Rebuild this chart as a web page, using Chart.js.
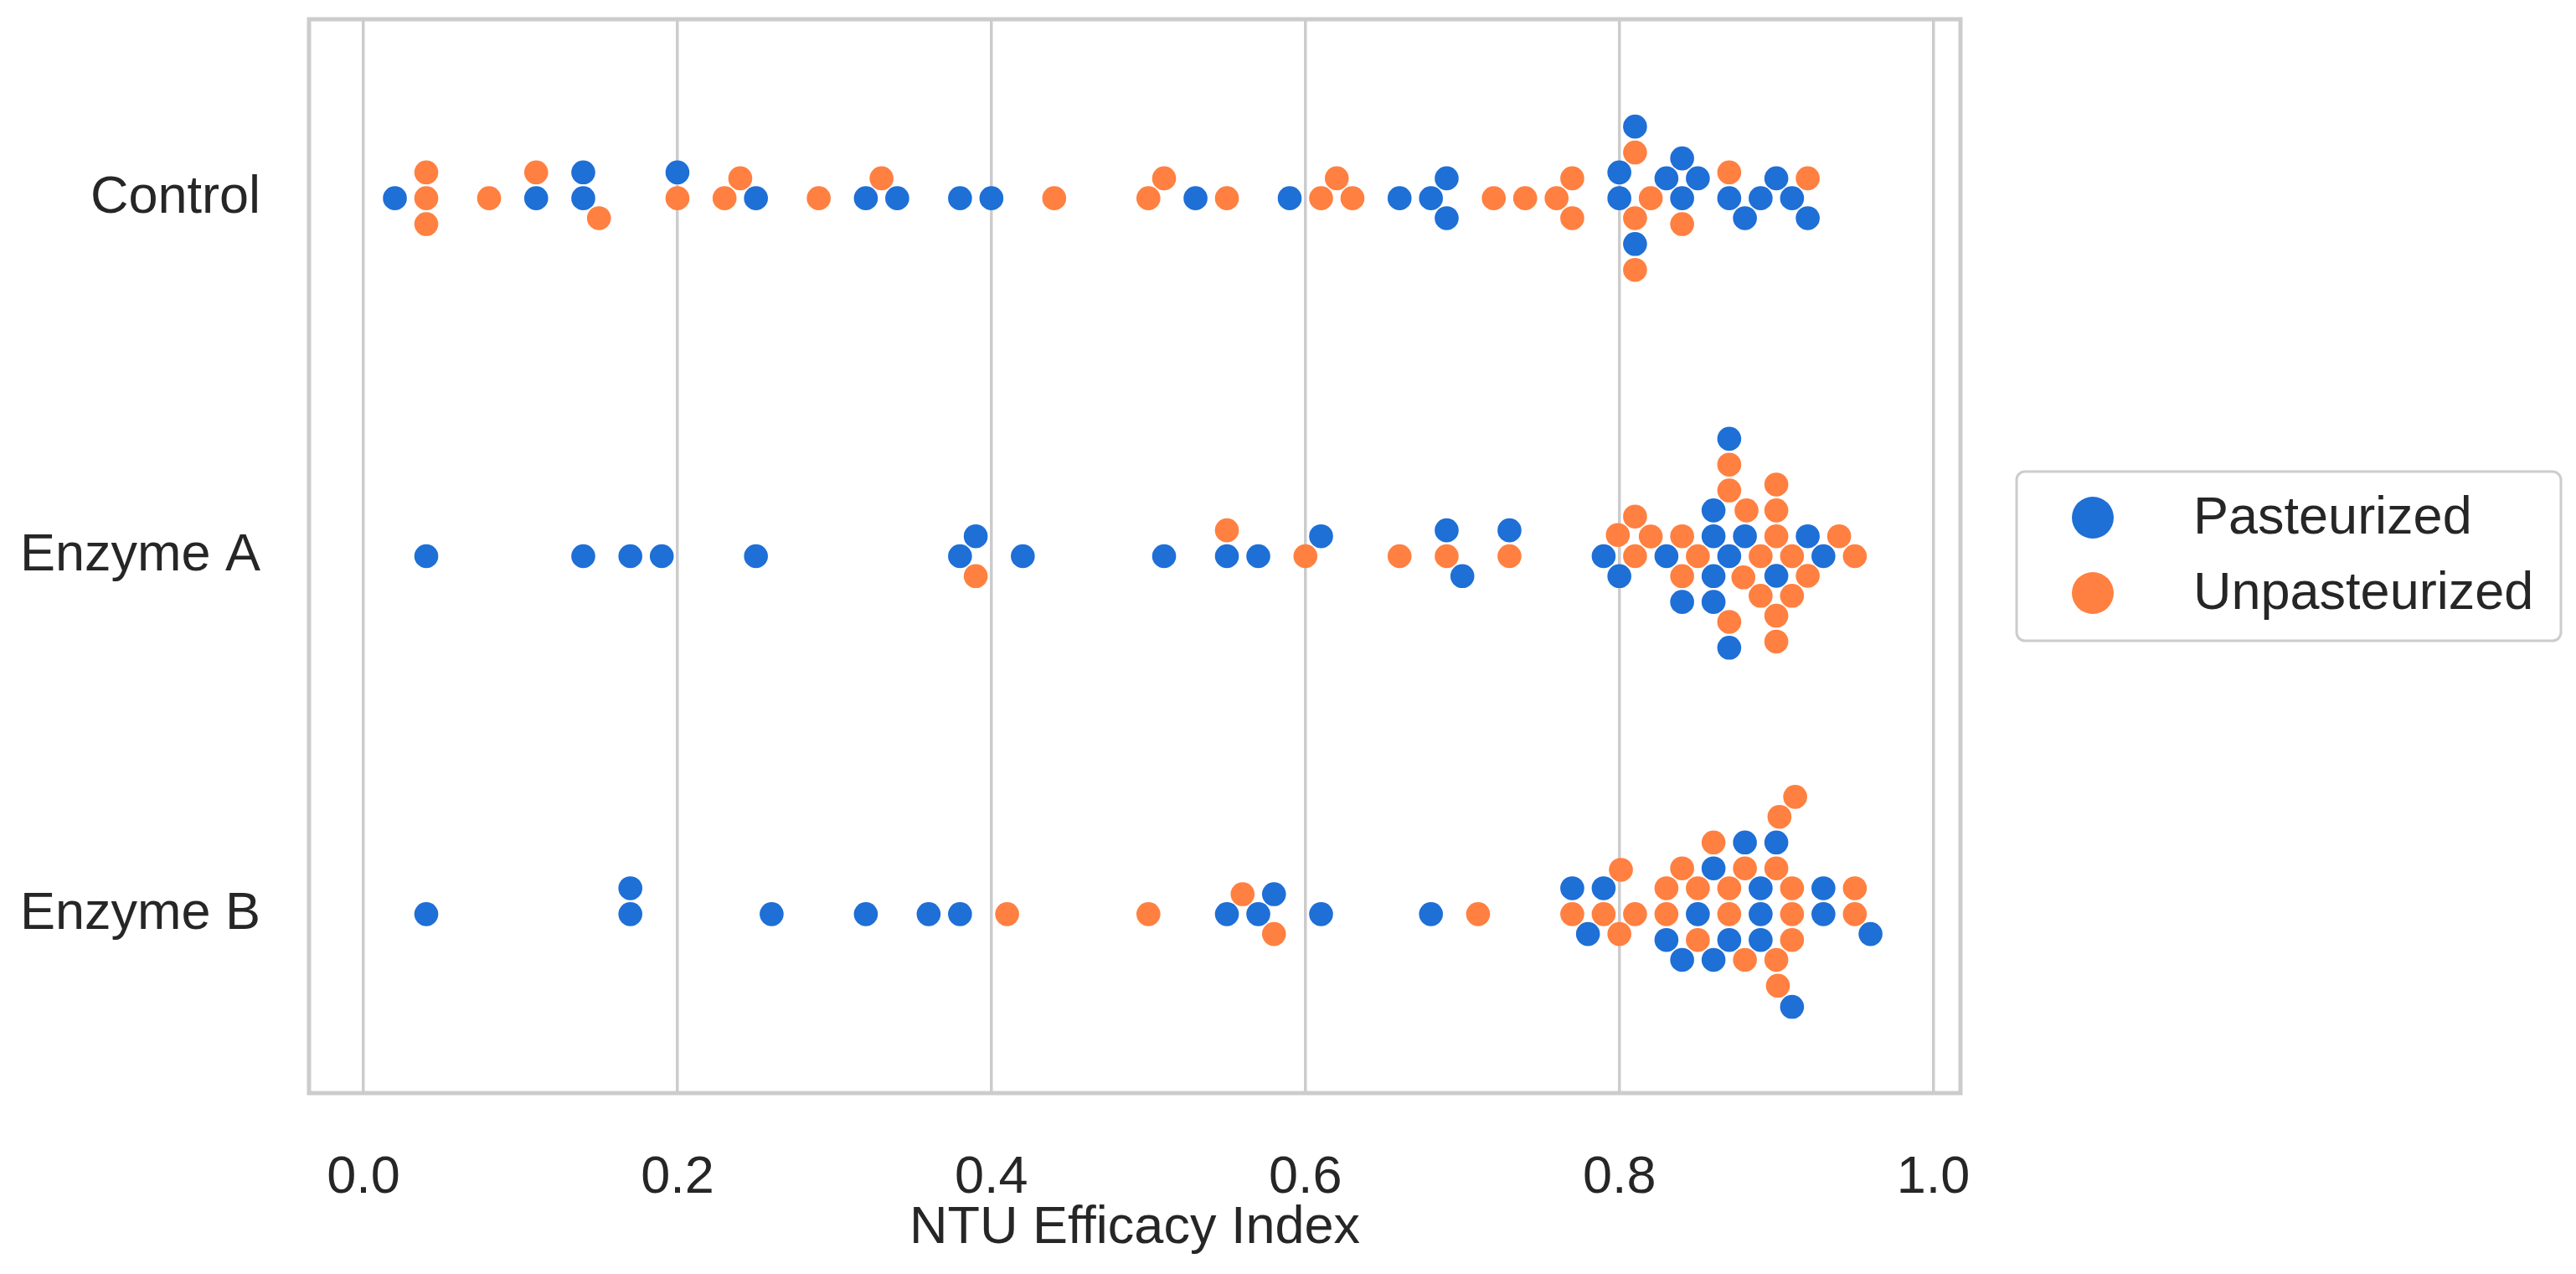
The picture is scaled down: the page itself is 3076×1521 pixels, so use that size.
<!DOCTYPE html>
<html>
<head>
<meta charset="utf-8">
<script src="https://cdn.jsdelivr.net/npm/chart.js@4.4.1/dist/chart.umd.min.js"></script>
<style>
  html, body { margin: 0; padding: 0; background: #fff; }
  #wrap { width: 3076px; height: 1521px; }
</style>
</head>
<body>
<div id="wrap"><canvas id="swarm"></canvas></div>
<script>
// categories, series and tick labels
const categories = ['Control', 'Enzyme A', 'Enzyme B'];
const seriesNames = ['Pasteurized', 'Unpasteurized'];
const xTicks = [0, 0.2, 0.4, 0.6, 0.8, 1.0];

// NTU efficacy index per sample (row order of the data)
// hue: P = Pasteurized, U = Unpasteurized
const controlValues = [0.02, 0.04, 0.04, 0.04, 0.08, 0.11, 0.11, 0.14, 0.14, 0.15,
  0.20, 0.20, 0.23, 0.24, 0.25, 0.29, 0.32, 0.33, 0.34, 0.38,
  0.40, 0.44, 0.50, 0.51, 0.53, 0.55, 0.59, 0.61, 0.62, 0.63,
  0.66, 0.68, 0.69, 0.69, 0.72, 0.74, 0.76, 0.77, 0.77, 0.80,
  0.80, 0.81, 0.81, 0.81, 0.81, 0.81, 0.82, 0.83, 0.84, 0.84,
  0.84, 0.85, 0.87, 0.87, 0.88, 0.89, 0.90, 0.91, 0.92, 0.92];
const controlHue = 'PUUUUPUPPU' + 'UPUUPUPUPP' + 'PUUUPUPUUU' + 'PPPPUUUUUP' + 'PUPUPUUPPU' + 'PPPUPPPPUP';

const enzymeAValues = [0.04, 0.14, 0.17, 0.19, 0.25, 0.38, 0.39, 0.39, 0.42, 0.51,
  0.55, 0.55, 0.57, 0.60, 0.61, 0.66, 0.69, 0.69, 0.70, 0.73,
  0.73, 0.79, 0.799, 0.80, 0.81, 0.81, 0.82, 0.83, 0.84, 0.84,
  0.84, 0.85, 0.86, 0.86, 0.86, 0.86, 0.87, 0.87, 0.87, 0.87,
  0.87, 0.87, 0.879, 0.88, 0.881, 0.89, 0.89, 0.90, 0.90, 0.90,
  0.90, 0.90, 0.90, 0.91, 0.91, 0.92, 0.92, 0.93, 0.94, 0.95];
const enzymeAHue = 'PPPPPPPUPP' + 'PUPUPUUPPU' + 'PPUPUUUPUU' + 'PUPPPPPUUP' + 'UPUPUUUPUU' + 'UUUUUUPPUU';

const enzymeBValues = [0.04, 0.17, 0.17, 0.26, 0.32, 0.36, 0.38, 0.41, 0.50, 0.55,
  0.56, 0.57, 0.58, 0.58, 0.61, 0.68, 0.71, 0.77, 0.77, 0.78,
  0.79, 0.79, 0.80, 0.801, 0.81, 0.83, 0.83, 0.83, 0.84, 0.84,
  0.85, 0.85, 0.85, 0.86, 0.86, 0.86, 0.87, 0.87, 0.87, 0.88,
  0.88, 0.88, 0.89, 0.89, 0.89, 0.90, 0.90, 0.90, 0.901, 0.902,
  0.91, 0.91, 0.91, 0.91, 0.912, 0.93, 0.93, 0.95, 0.95, 0.96];
const enzymeBHue = 'PPPPPPPUUP' + 'UPPUPPUUPP' + 'UPUUUUUPPU' + 'PUUPPUUUPU' + 'UPPPPUUPUU' + 'UUUPUPPUUP';

const valuesByCat = [controlValues, enzymeAValues, enzymeBValues];
const hueByCat = [controlHue, enzymeAHue, enzymeBHue];

const BLUE = '#1E6FD6';
const ORANGE = '#FF8040';
const TEXT = '#262626';
const GRID = '#cccccc';
const FONT = '"Liberation Sans", Arial, sans-serif';
const SWARM_R = 14.7;

const pastData = [];
const unpastData = [];
const rows = [];   // every sample, per category, for the swarm layout
valuesByCat.forEach((vals, c) => {
  vals.forEach((v, i) => {
    const p = { x: v, y: c };
    (hueByCat[c][i] === 'P' ? pastData : unpastData).push(p);
    rows.push({ c, i, p });
  });
});

// seaborn-like beeswarm: value pixels sorted ascending -> offsets (px, up positive)
function beeswarm(pxVals, r) {
  const placed = [];
  const out = [];
  const sep2 = 4 * r * r;
  pxVals.forEach((y, i) => {
    if (i === 0) { placed.push({ o: 0, y }); out.push(0); return; }
    const nb = [];
    for (let j = placed.length - 1; j >= 0; j--) {
      if (y - placed[j].y < 2 * r) nb.push(placed[j]); else break;
    }
    const cand = [0];
    let leftFirst = true;
    nb.forEach(n => {
      const dy = y - n.y;
      const dx = Math.sqrt(Math.max(sep2 - dy * dy, 0)) * 1.05;
      if (leftFirst) cand.push(n.o + dx, n.o - dx); else cand.push(n.o - dx, n.o + dx);
      leftFirst = !leftFirst;
    });
    const order = cand.map((c, k) => k)
      .sort((a, b) => (Math.abs(cand[a]) - Math.abs(cand[b])) || (a - b));
    let chosen = cand[0];
    for (const k of order) {
      const c = cand[k];
      if (nb.every(n => (n.o - c) ** 2 + (n.y - y) ** 2 >= sep2 - 1e-9)) { chosen = c; break; }
    }
    placed.push({ o: chosen, y });
    out.push(chosen);
  });
  return out;
}

// frame around the plot area
const framePlugin = {
  id: 'frame',
  beforeDatasetsDraw(chart) {
    const a = chart.chartArea;
    const ctx = chart.ctx;
    ctx.save();
    ctx.strokeStyle = GRID;
    ctx.lineWidth = 5;
    ctx.strokeRect(a.left, a.top, a.right - a.left, a.bottom - a.top);
    ctx.restore();
  }
};

// legend box on the right
const legendPlugin = {
  id: 'boxLegend',
  afterDraw(chart) {
    const ctx = chart.ctx;
    const x0 = 2408, y0 = 563, w = 650, h = 202;
    ctx.save();
    ctx.beginPath();
    ctx.roundRect(x0, y0, w, h, 10);
    ctx.fillStyle = '#ffffff';
    ctx.fill();
    ctx.lineWidth = 3;
    ctx.strokeStyle = GRID;
    ctx.stroke();
    const cols = [BLUE, ORANGE];
    ctx.font = '63px ' + FONT;
    ctx.textBaseline = 'middle';
    ctx.textAlign = 'left';
    seriesNames.forEach((name, i) => {
      const cy = 618 + i * 90;
      ctx.beginPath();
      ctx.arc(2499, cy, 25, 0, Math.PI * 2);
      ctx.fillStyle = cols[i];
      ctx.fill();
      ctx.fillStyle = TEXT;
      ctx.fillText(name, 2619, cy + 2);
    });
    ctx.restore();
  }
};

const pointStyle = { pointRadius: 14.3, borderWidth: 0 };
const chart = new Chart(document.getElementById('swarm'), {
  type: 'scatter',
  data: {
    datasets: [
      Object.assign({ label: seriesNames[0], data: pastData, backgroundColor: BLUE }, pointStyle),
      Object.assign({ label: seriesNames[1], data: unpastData, backgroundColor: ORANGE }, pointStyle)
    ]
  },
  options: {
    responsive: true,
    maintainAspectRatio: false,
    devicePixelRatio: 1,
    animation: false,
    events: [],
    layout: { padding: { top: 23, right: 735, left: 0, bottom: 0 } },
    plugins: { legend: { display: false }, tooltip: { enabled: false } },
    scales: {
      x: {
        type: 'linear',
        min: -0.0347,
        max: 1.0173,
        afterBuildTicks: s => { s.ticks = xTicks.map(v => ({ value: v })); },
        afterFit: s => { s.height = 216; s.paddingLeft = 0; s.paddingRight = 0; },
        grid: { color: GRID, lineWidth: 3.5, drawTicks: false },
        border: { display: false },
        ticks: {
          padding: 64,
          color: TEXT,
          font: { family: FONT, size: 63 },
          callback: v => Number(v).toFixed(1)
        },
        title: {
          display: true,
          text: 'NTU Efficacy Index',
          color: TEXT,
          font: { family: FONT, size: 63 },
          padding: { top: 0, bottom: 17 }
        }
      },
      y: {
        type: 'linear',
        reverse: true,
        min: -0.5,
        max: 2.5,
        afterBuildTicks: s => { s.ticks = categories.map((c, i) => ({ value: i })); },
        afterFit: s => { s.width = 369; s.paddingTop = 0; s.paddingBottom = 0; },
        grid: { display: false, drawTicks: false },
        border: { display: false },
        ticks: {
          padding: 58,
          color: TEXT,
          font: { family: FONT, size: 63 },
          callback: v => categories[v] ?? ''
        }
      }
    }
  },
  plugins: [framePlugin, legendPlugin]
});

// lay the points out as swarms, through the chart's own scales
(function layoutSwarm() {
  const xs = chart.scales.x, ys = chart.scales.y;
  categories.forEach((name, ci) => {
    const pts = rows.filter(r => r.c === ci).sort((a, b) => (a.p.x - b.p.x) || (a.i - b.i));
    const offs = beeswarm(pts.map(r => xs.getPixelForValue(r.p.x)), SWARM_R);
    const center = ys.getPixelForValue(ci);
    pts.forEach((r, k) => { r.p.y = ys.getValueForPixel(center - offs[k]); });
  });
  chart.update('none');
})();
</script>
</body>
</html>
